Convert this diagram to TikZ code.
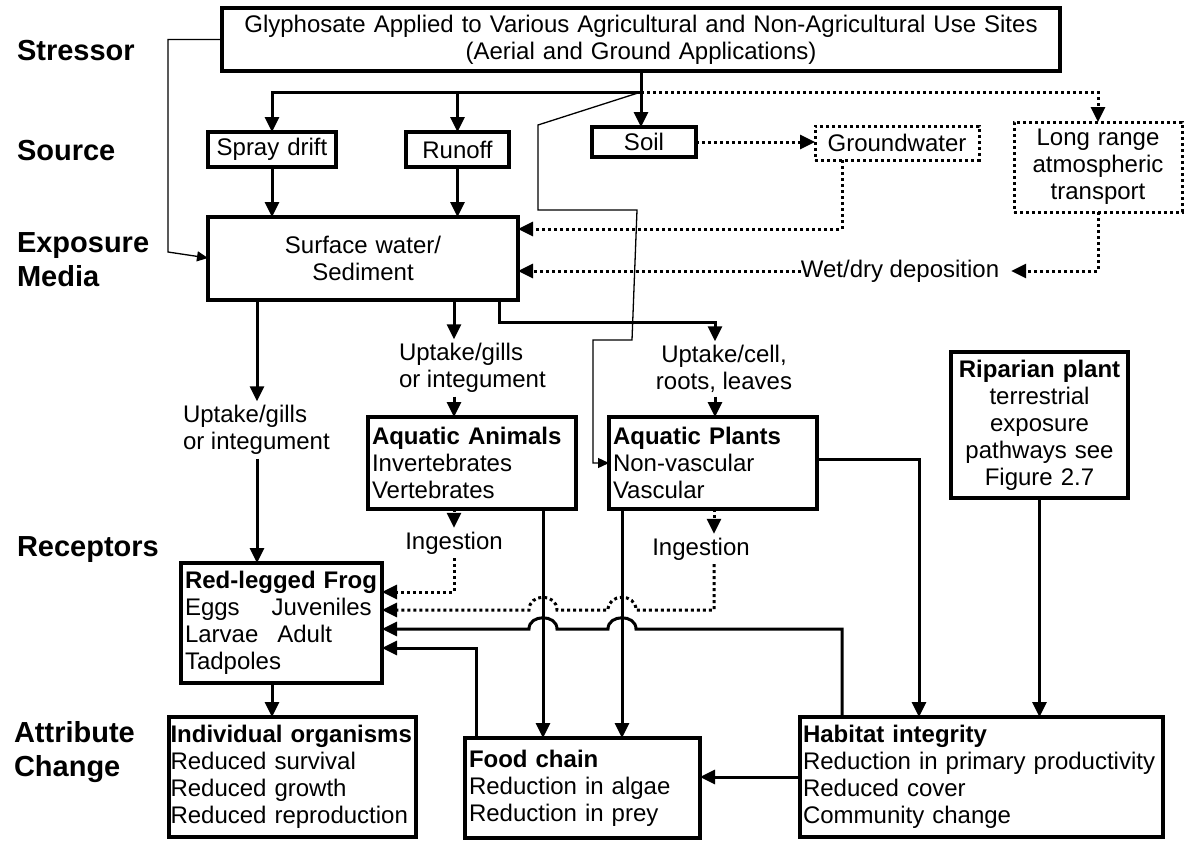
\documentclass[tikz,border=0pt]{standalone}
\usepackage{fontspec}
\setmainfont{Liberation Sans}
\usetikzlibrary{arrows.meta}
\newcommand\bodyfont{\fontsize{24}{27}\selectfont}
\newcommand\stagefont{\fontsize{29}{34}\selectfont\bfseries}
\hyphenpenalty=10000
\hbadness=10000
\begin{document}
\begin{tikzpicture}
[x=1pt,y=-1pt,
 every node/.style={font=\bodyfont,inner sep=0pt,outer sep=0pt},
 cbox/.style={draw,line width=3.2pt,anchor=north west,inner xsep=4pt},
 dbox/.style={cbox,line width=3pt,dash pattern=on 3pt off 3pt,align=center},
 stage/.style={font=\stagefont,anchor=west,align=left},
 lab/.style={inner ysep=4pt},
 thickline/.style={line width=3pt},
 dotline/.style={line width=3pt,dash pattern=on 3pt off 3pt},
 thinline/.style={line width=1.3pt},
 tip/.style={-{Triangle[length=15pt,width=14pt]}},
 smalltip/.style={-{Triangle[length=11pt,width=10pt]}}]
\useasboundingbox (0,0) rectangle (1185,841);

\node[stage] (lstr) at (17,51)  {Stressor};
\node[stage] (lsrc) at (17,151) {Source};
\node[stage] (lexp) at (17,260) {Exposure\\Media};
\node[stage] (lrec) at (17,550) {Receptors};
\node[stage] (latt) at (14,752) {Attribute\\Change};

\node[cbox,align=center,text width=830pt,minimum height=63pt] (st) at (222,8)
  {Glyphosate Applied to Various Agricultural and Non-Agricultural Use Sites\\(Aerial and Ground Applications)};
\node[cbox,align=center,text width=120pt,minimum height=35pt] (spray)  at (208,132) {Spray drift};
\node[cbox,align=center,text width=95pt,minimum height=35pt]  (runoff) at (406,132) {Runoff};
\node[cbox,align=center,text width=96pt,minimum height=30pt]  (soil)   at (592,127) {Soil};
\node[dbox,text width=156pt,minimum height=34pt] (gw) at (815,126) {Groundwater};
\node[dbox,text width=160pt,minimum height=90pt] (lr) at (1014,122) {Long range\\atmospheric\\transport};
\node[cbox,align=center,text width=302pt,minimum height=83pt] (sw) at (208,217) {Surface water/\\Sediment};
\node[cbox,align=left,text width=200pt,minimum height=92pt] (aa) at (368,417)
  {\textbf{Aquatic Animals}\\Invertebrates\\Vertebrates};
\node[cbox,align=left,text width=200pt,minimum height=92pt] (ap) at (609,417)
  {\textbf{Aquatic Plants}\\Non-vascular\\Vascular};
\node[cbox,align=center,text width=169pt,minimum height=146pt] (rp) at (951,352)
  {\textbf{Riparian plant}\\terrestrial\\exposure\\pathways see\\Figure 2.7};
\node[cbox,align=left,text width=193pt,minimum height=120pt] (frog) at (181,563)
  {\textbf{Red-legged Frog}\\Eggs\hspace{32pt}Juveniles\\Larvae\hspace{19pt}Adult\\Tadpoles};
\node[cbox,align=left,inner xsep=1.5pt,text width=244pt,minimum height=120pt] (ind) at (169,717)
  {\textbf{Individual organisms}\\Reduced survival\\Reduced growth\\Reduced reproduction};
\node[cbox,align=left,text width=227pt,minimum height=100pt] (food) at (465,738)
  {\textbf{Food chain}\\Reduction in algae\\Reduction in prey};
\node[cbox,align=left,inner xsep=3pt,text width=357pt,minimum height=120pt] (hab) at (800,717)
  {\textbf{Habitat integrity}\\Reduction in primary productivity\\Reduced cover\\Community change};

\node[lab,align=left,anchor=west] (up1) at (183,430) {Uptake/gills\\or integument};
\node[lab,align=left,anchor=west] (up2) at (399,368) {Uptake/gills\\or integument};
\node[lab,align=center] (up3) at (724,369) {Uptake/cell,\\roots, leaves};
\node[lab] (ing1) at (454,543) {Ingestion};
\node[lab] (ing2) at (701,549) {Ingestion};
\node (wd) at (900,271) {Wet/dry deposition};

\coordinate (bus) at (st.south |- 0,92);
\draw[thickline] (st.south) -- (bus);
\draw[thickline,tip] (bus) -| (spray.north);
\draw[thickline,tip] (runoff.north |- bus) -- (runoff.north);
\draw[thickline,tip] (bus) -- (soil.north -| bus);
\draw[dotline,tip] (bus) -| (lr.north);
\draw[thickline,tip] (spray.south) -- (spray.south |- sw.north);
\draw[thickline,tip] (runoff.south) -- (runoff.south |- sw.north);
\draw[dotline,tip] (soil.east) -- (gw.west |- soil.east);
\draw[dotline,tip] (gw.south -| 842,0) |- (sw.east |- 0,229);
\draw[dotline,tip,shorten >=12pt] (lr.south) |- (wd.east);
\draw[dotline,tip] (wd.west) -- (sw.east |- wd.west);

\draw[thinline,smalltip] (st.west) -| (168,252) -- (sw.west |- 0,258);
\draw[thinline,smalltip] (bus) -- (538,125) -- (538,210) -- (637,210) -- (632,340) -- (593,340) |- (ap.west);

\draw[thickline,tip] (sw.south -| 257,0) -- (up1.north -| 257,0);
\draw[thickline,tip] (up1.south -| 257,0) -- (frog.north -| 257,0);
\draw[thickline,tip] (sw.south -| 454,0) -- (up2.north -| 454,0);
\draw[thickline,tip] (up2.south -| 454,0) -- (aa.north -| 454,0);
\draw[thickline,tip] (sw.south -| 499,0) -- (499,322) -| (up3.north -| 715,0);
\draw[thickline,tip] (up3.south -| 715,0) -- (ap.north -| 715,0);

\draw[dotline,tip] (aa.south -| ing1) -- (ing1.north);
\draw[dotline,tip] (ing1.south) |- (frog.east |- 0,592);
\draw[dotline,tip] (ap.south -| 714,0) -- (ing2.north -| 714,0);
\draw[dotline,tip] (ing2.south -| 714,0) -- (714,610) -- (636,610)
  .. controls (636,593) and (608,593) .. (608,610) -- (557,610)
  .. controls (557,593) and (529,593) .. (529,610) -- (frog.east |- 0,610);
\draw[thickline,tip] (aa.south -| 543,0) -- (food.north -| 543,0);
\draw[thickline,tip] (ap.south -| 622,0) -- (food.north -| 622,0);
\draw[thickline,tip] (ap.east |- 0,459) -| (hab.north -| 919,0);
\draw[thickline,tip] (rp.south) -- (rp.south |- hab.north);
\draw[thickline,tip] (hab.north -| 842,0) -- (842,629) -- (636,629)
  .. controls (636,614) and (608,614) .. (608,629) -- (557,629)
  .. controls (557,614) and (529,614) .. (529,629) -- (frog.east |- 0,629);
\draw[thickline,tip] (food.north -| 476,0) |- (frog.east |- 0,648);
\draw[thickline,tip] (hab.west) -- (food.east |- hab.west);
\draw[thickline,tip] (frog.south -| 272,0) -- (ind.north -| 272,0);
\end{tikzpicture}
\end{document}
